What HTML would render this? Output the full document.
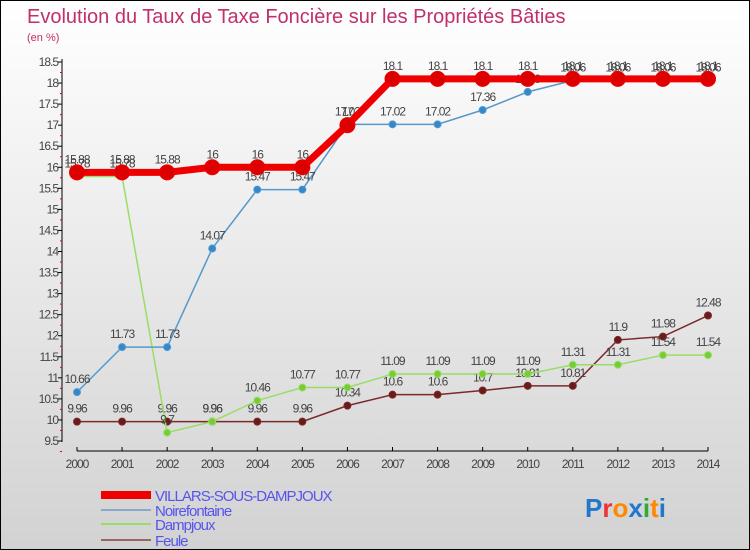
<!DOCTYPE html>
<html><head><meta charset="utf-8"><style>
body{margin:0}
#c{width:750px;height:550px;position:relative;box-sizing:border-box;border:1px solid #000;background:linear-gradient(#fff,#d2d2d2);font-family:"Liberation Sans",sans-serif;overflow:hidden}
svg{position:absolute;left:0;top:0}
</style></head><body>
<div id="c">
<svg id="s" width="750" height="550">
<text x="26" y="22" font-size="20" fill="#c0306a">Evolution du Taux de Taxe Foncière sur les Propriétés Bâties</text>
<text x="26" y="40" font-size="11" fill="#c0306a">(en %)</text>
</svg>
</div>
<script>
const years=[2000,2001,2002,2003,2004,2005,2006,2007,2008,2009,2010,2011,2012,2013,2014];
const villars=[15.88,15.88,15.88,16,16,16,17,18.1,18.1,18.1,18.1,18.1,18.1,18.1,18.1];
const noire=[10.66,11.73,11.73,14.07,15.47,15.47,17.02,17.02,17.02,17.36,17.79,18.06,18.06,18.06,18.06];
const damp=[15.78,15.78,9.7,9.96,10.46,10.77,10.77,11.09,11.09,11.09,11.09,11.31,11.31,11.54,11.54];
const feule=[9.96,9.96,9.96,9.96,9.96,9.96,10.34,10.6,10.6,10.7,10.81,10.81,11.9,11.98,12.48];
const yTicks=[9.5,10,10.5,11,11.5,12,12.5,13,13.5,14,14.5,15,15.5,16,16.5,17,17.5,18,18.5];
const NS='http://www.w3.org/2000/svg';const s=document.getElementById('s');
const X=i=>76+i*(707-76)/14;const Y=v=>440-(v-9.5)*(440-61)/9;
function el(t,a,p){const e=document.createElementNS(NS,t);for(const k in a)e.setAttribute(k,a[k]);(p||s).appendChild(e);return e;}
const ax=el('g',{});
el('line',{x1:61,y1:58,x2:61,y2:441,stroke:'#000'},ax);
el('line',{x1:76,y1:450,x2:707,y2:450,stroke:'#000'},ax);
yTicks.forEach(v=>{const y=Y(v);el('line',{x1:57,y1:y,x2:61,y2:y,stroke:'#000'},ax);el('line',{x1:59,y1:y+10.5,x2:61,y2:y+10.5,stroke:'#e00'},ax);
const t=el('text',{x:57,y:y+4,'font-size':12,'text-anchor':'end',fill:'#444','letter-spacing':'-1'},ax);t.textContent=v;});
years.forEach((yr,i)=>{el('line',{x1:X(i),y1:446,x2:X(i),y2:450,stroke:'#000'},ax);
const t=el('text',{x:X(i),y:467,'font-size':12,'text-anchor':'middle',fill:'#444','letter-spacing':'-1'},ax);t.textContent=yr;});
function series(d,name,col,w,r,fill){const g=el('g',{});
el('polyline',{points:d.map((v,i)=>X(i)+','+Y(v)).join(' '),fill:'none',stroke:col,'stroke-width':w},g);
d.forEach((v,i)=>{const c=el('circle',{cx:X(i),cy:Y(v),r:r,fill:fill,stroke:col,'stroke-width':1},g);
const t=el('text',{x:X(i),y:Y(v)-9,'font-size':12,'text-anchor':'middle',fill:'#444','letter-spacing':'-1'},g);t.textContent=v;});}
series(feule,'series-feule','#7a2a2a',1.5,3.5,'#6b1a1a');
series(damp,'series-dampjoux','#99dd66',1.5,3.5,'#77cc33');
series(noire,'series-noirefontaine','#5599cc',1.5,3.5,'#3388cc');
series(villars,'series-villars','#ee0000',7,7.5,'#dd0000');
const lg=el('g',{});
[['VILLARS-SOUS-DAMPJOUX','#ee0000',8,494],['Noirefontaine','#88aacc',2,509],['Dampjoux','#99dd66',2,523],['Feule','#996666',2,539]].forEach(l=>{
el('line',{x1:100,y1:l[3],x2:150,y2:l[3],stroke:l[1],'stroke-width':l[2]},lg);
const t=el('text',{x:154,y:l[3]+6,'font-size':15,fill:'#5555ee','letter-spacing':'-1'},lg);t.textContent=l[0];});
const p=el('text',{x:584,y:516,'font-size':26,'font-weight':'bold'});
[['P','#2277cc'],['r','#ee3333'],['o','#ff8800'],['x','#2277cc'],['i','#33aa33'],['t','#ff8800'],['i','#2277cc']].forEach(c=>{const ts=el('tspan',{fill:c[1]},p);ts.textContent=c[0];});
</script>
</body></html>
